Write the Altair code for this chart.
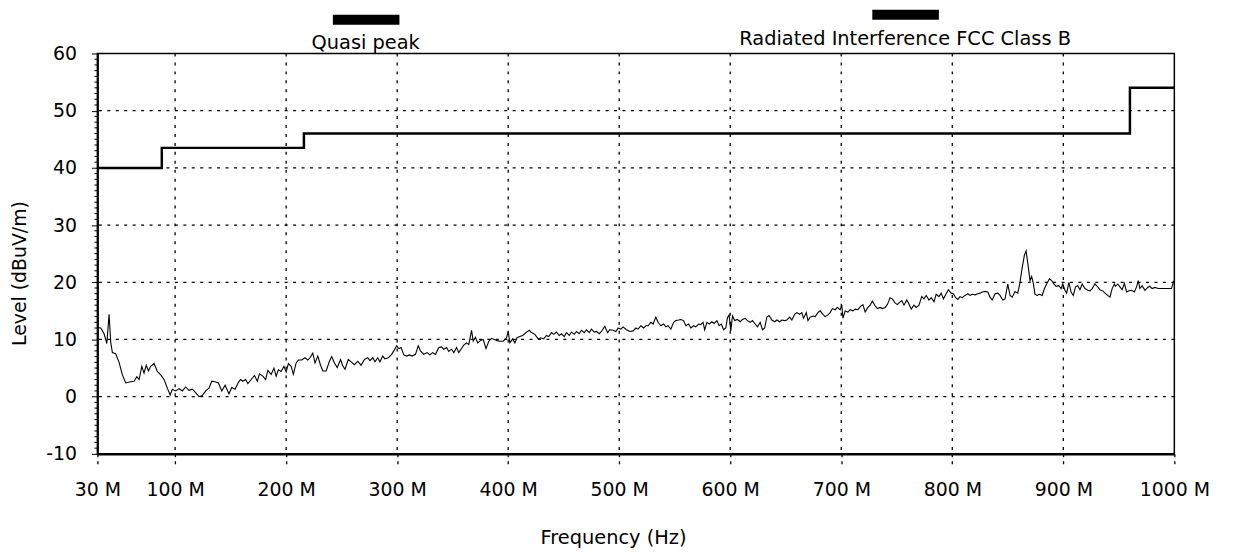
import altair as alt
import pandas as pd

# ---------------- data ----------------
freq_mhz = [30, 33, 36, 38.5, 40.5, 42, 43.5, 46.5, 49.5, 52.5, 55.5, 60, 63, 65.5, 67.5, 70, 72, 74, 76, 78,
            81, 84, 87, 90, 93, 95.5, 97.5, 100.5, 103.5, 106.5, 109.5, 112.5, 115.5, 118.5, 121.5, 124.5,
            127.5, 130.5, 133, 136, 139, 142, 145, 148.5, 151, 154, 157, 159, 161, 163.5, 165.5, 168.5,
            171.5, 174, 176, 179, 181.5, 183.5, 186.5, 189, 191, 193, 195.5, 198, 200, 202, 204.5, 206.5,
            209, 211, 214, 217, 219.5, 221.5, 224, 226, 228.5, 231, 233, 236, 239, 241, 243.5, 246, 249,
            251, 253, 256, 259, 261.5, 264.5, 267.5, 270.5, 273.5, 275.5, 278, 280, 282.5, 284.5, 287,
            289, 292, 295, 297, 299.5, 301.5, 303.5, 306, 308.5, 311, 313.5, 316.5, 319, 321, 324, 327,
            329.5, 332, 334.5, 337.5, 340, 342, 344.5, 346.5, 349, 351, 353.5, 355.5, 357.5, 360, 362.5,
            364.5, 367, 368.5, 370.5, 372.5, 375, 377.5, 380, 382.5, 385, 387.5, 390, 392.5, 395.5,
            398.5, 400, 401.5, 404, 406, 408, 410.5, 413, 416, 419, 421, 424, 427, 429.5, 432, 434.5,
            436.5, 439, 441, 443.5, 446, 448, 450.5, 452.5, 455, 457, 459.5, 461.5, 464, 466, 468.5,
            470.5, 473, 475, 477.5, 479.5, 482, 484, 487, 489.5, 491.5, 494.5, 497, 499, 501.5, 503.5,
            506.5, 509.5, 512.5, 515, 517, 519.5, 522, 524, 526, 528.5, 530.5, 533, 535, 537.5, 540,
            542, 544, 546.5, 549, 551, 553.5, 555.5, 558, 560, 562.5, 564.5, 567, 569, 571.5, 573.5,
            575.5, 577, 579, 581, 583.5, 585.5, 588, 590, 592, 594, 596, 597.5, 599, 600.5, 602, 604,
            606.5, 609, 611, 613.5, 615.5, 618, 620, 622.5, 624.5, 627, 629, 631, 633, 635, 637.5, 640,
            642, 644.5, 646.5, 649, 651, 653.5, 655.5, 658, 660, 662.5, 664.5, 666, 668.5, 670, 672,
            674.5, 676.5, 679, 681, 683.5, 685.5, 688, 690, 692, 694.5, 696.5, 699, 700.5, 701.5, 703.5,
            706, 708, 710.5, 712.5, 715, 717, 719.5, 721.5, 724, 726, 728, 730.5, 732.5, 735, 737, 739.5,
            741.5, 744, 746, 748.5, 750.5, 752.5, 754.5, 756.5, 759, 761, 763, 765.5, 767.5, 770, 772.5,
            774.5, 776.5, 779, 781, 783.5, 785.5, 788, 790, 792, 794.5, 796.5, 799, 801, 803, 805, 807,
            809, 811.5, 814, 816, 818, 820.5, 823, 825, 827, 829.5, 832, 834, 836, 838.5, 841, 843,
            845.5, 847.5, 850, 852, 854, 856.5, 859, 861, 863, 865, 866.5, 868.5, 870, 871.5, 873,
            874.5, 876.5, 878.5, 881, 883, 885, 887.5, 889.5, 891.5, 893.5, 896, 898, 899.5, 901.5,
            903, 905, 907, 909, 911, 913, 915, 917, 919.5, 922, 924, 926, 928.5, 931, 933, 935.5, 937.5,
            940, 942, 944, 946, 947, 949, 951, 953, 955, 957, 959, 961.5, 964, 966, 967.5, 969, 971,
            973.5, 976, 978, 980, 982.5, 985.5, 990, 994.5, 997.5, 999, 1000]

level_dbuv = [12.1, 12.0, 11.0, 9.3, 14.4, 9.5, 7.7, 7.5, 6.0, 3.8, 2.4, 2.6, 2.7, 3.5, 3.0, 5.3, 4.1, 5.5, 4.5, 5.3,
              5.8, 4.4, 3.8, 3.0, 1.5, 0.3, 1.3, 1.0, 1.4, 1.0, 1.7, 1.1, 1.3, 0.7, 0.0, 0.2,
              1.0, 1.5, 2.7, 2.6, 2.4, 1.0, 2.0, 0.5, 1.6, 1.3, 2.5, 3.0, 2.7, 3.0, 2.3, 3.0,
              3.7, 2.7, 4.0, 3.6, 3.0, 4.6, 3.9, 5.0, 3.6, 4.7, 4.4, 5.3, 4.3, 5.8, 5.3, 3.9,
              5.9, 6.4, 6.4, 6.8, 6.4, 6.8, 7.6, 5.9, 7.1, 5.5, 4.5, 4.5, 6.2, 7.0, 5.9, 5.1, 6.5,
              5.4, 4.8, 6.5, 6.0, 5.6, 6.2, 5.5, 6.5, 6.8, 6.3, 6.8, 6.1, 6.8, 6.1, 7.1,
              6.6, 6.8, 7.4, 8.0, 8.9, 8.4, 8.6, 7.3, 7.1, 7.3, 7.1, 7.4, 8.9, 8.0, 7.4, 7.7,
              7.3, 7.7, 7.4, 8.6, 8.7, 8.3, 8.6, 7.9, 8.3, 7.7, 8.6, 7.7, 8.3, 9.0, 9.4,
              9.1, 11.6, 9.7, 10.4, 9.4, 9.8, 10.0, 8.4, 9.7, 10.2, 10.0, 9.8, 9.7, 9.7,
              10.3, 11.4, 9.4, 10.1, 9.4, 10.3, 10.5, 10.7, 11.2, 11.6, 11.2, 10.9, 10.1, 10.3, 10.1, 10.7,
              10.5, 11.2, 10.9, 11.3, 10.7, 11.0, 10.5, 11.2, 10.7, 11.3, 10.9, 11.4, 11.0, 11.6, 11.2,
              11.7, 11.2, 11.8, 11.3, 11.4, 11.0, 11.4, 12.3, 11.2, 11.7, 11.6, 11.4, 12.0, 11.8, 12.2,
              11.7, 11.4, 11.5, 12.0, 11.8, 12.4, 12.0, 12.4, 12.4, 13.0, 12.7, 13.9, 13.0, 12.4, 12.7,
              12.2, 12.4, 11.8, 13.0, 13.3, 13.4, 13.5, 13.3, 12.4, 12.7, 12.0, 12.4, 12.2, 12.7, 12.6,
              13.0, 11.7, 13.0, 12.7, 13.1, 12.8, 13.3, 12.4, 12.7, 11.7, 12.0, 13.8, 14.3, 11.5, 14.1, 13.3,
              13.5, 13.1, 13.5, 13.7, 13.3, 13.0, 13.3, 12.7, 12.2, 13.0, 11.7, 12.0, 13.9, 14.2, 13.4, 13.1,
              13.4, 13.1, 13.4, 13.3, 13.4, 13.9, 13.4, 14.4, 14.7, 14.4, 14.7, 13.7, 14.7, 13.3, 13.9,
              14.1, 14.0, 14.7, 15.0, 14.4, 14.0, 14.3, 14.7, 15.4, 15.2, 15.6, 15.2, 16.0, 13.7, 15.0,
              14.8, 15.2, 15.0, 15.3, 15.2, 15.7, 16.1, 14.8, 15.6, 16.0, 16.7, 15.9, 15.4, 15.6, 15.4, 15.6,
              16.1, 17.3, 17.1, 16.4, 16.1, 16.5, 16.8, 16.0, 16.9, 16.2, 15.3, 16.0, 15.6, 16.0, 17.5,
              17.1, 17.7, 16.9, 17.3, 16.6, 17.9, 17.5, 18.1, 17.1, 18.0, 18.7, 18.1, 18.0, 17.3, 17.0, 17.5,
              17.3, 17.7, 18.0, 17.7, 17.9, 17.8, 18.0, 18.1, 18.3, 18.4, 18.3, 17.4, 16.9, 18.0, 18.1, 17.7,
              16.9, 17.1, 19.7, 17.7, 17.4, 18.4, 18.1, 20.0, 22.6, 24.8, 25.5, 22.6, 20.3, 21.0, 19.8,
              17.9, 17.7, 17.9, 17.7, 18.9, 19.7, 20.6, 20.3, 19.7, 19.3, 19.4, 18.9, 19.7, 18.6,
              18.1, 20.0, 18.3, 17.7, 19.2, 19.4, 18.7, 19.7, 18.9, 18.6, 18.5, 18.9, 19.7, 19.2, 18.7, 18.5, 18.1,
              17.7, 17.4, 18.9, 19.7, 19.3, 19.7, 19.2, 18.7, 19.8, 18.3, 18.5, 18.6, 18.3, 19.2, 20.3, 18.9, 19.4,
              18.6, 19.1, 19.3, 18.9, 19.1, 18.9, 18.9, 18.9, 18.9, 20.0, 20.3]

limit_freq = [30, 88, 216, 960, 1000]
limit_level = [40, 43.5, 46, 54, 54]

x_ticks = [30, 100, 200, 300, 400, 500, 600, 700, 800, 900, 1000]
x_grid = [100, 200, 300, 400, 500, 600, 700, 800, 900]
y_ticks = [-10, 0, 10, 20, 30, 40, 50, 60]
y_grid = [0, 10, 20, 30, 40, 50]
y_minor = [v for v in range(-10, 61) if v % 10 != 0]
legend_labels = ["Quasi peak", "Radiated Interference FCC Class B"]

# ---------------- chart ----------------
W, H = 1084, 403
FONT = "DejaVu Sans"

xscale = alt.Scale(domain=[30, 1000], nice=False, zero=False)
yscale = alt.Scale(domain=[-10, 60], nice=False, zero=False)

x_axis = alt.Axis(
    values=x_ticks, labelExpr="datum.value + ' M'", grid=False,
    tickSize=14, tickDash=[3, 4], tickColor="black", tickWidth=1.3,
    labelPadding=22, labelBaseline="middle", labelFontSize=19, labelFont=FONT,
    labelColor="black", labelFlush=False, labelOverlap=False,
    domainColor="black", domainWidth=2.5,
    title="Frequency (Hz)", titleFont=FONT, titleFontSize=19.5, titleFontWeight="normal",
    titleColor="black", titleX=519, titleY=84, titleBaseline="middle", titleAlign="center",
)

y_axis = alt.Axis(
    values=y_ticks,
    labelExpr="'' + datum.value",
    grid=False,
    tickSize=6, tickColor="black", tickWidth=1,
    labelPadding=15, labelFontSize=19, labelFont=FONT, labelColor="black",
    labelFlush=False, labelOverlap=False,
    domainColor="black", domainWidth=2,
    title="Level (dBuV/m)", titleFont=FONT, titleFontSize=19, titleFontWeight="normal",
    titleColor="black", titleX=-78, titleY=221, titleAngle=270,
    titleBaseline="middle", titleAlign="center",
)

# main trace carries both axes
trace = alt.Chart(pd.DataFrame({"freq": freq_mhz, "level": level_dbuv})).mark_line(
    color="black", strokeWidth=1.1
).encode(
    x=alt.X("freq:Q", scale=xscale, axis=x_axis),
    y=alt.Y("level:Q", scale=yscale, axis=y_axis),
)

xgrid = alt.Chart(pd.DataFrame({"freq": x_grid})).mark_rule(
    color="black", strokeDash=[3, 6], strokeWidth=1.3
).encode(x=alt.X("freq:Q"))

ygrid = alt.Chart(pd.DataFrame({"level": y_grid})).mark_rule(
    color="black", strokeDash=[3, 5.5], strokeWidth=1.3
).encode(y=alt.Y("level:Q"))

yminor = alt.Chart(pd.DataFrame({"level": y_minor})).mark_rule(
    color="black", strokeWidth=1
).encode(y=alt.Y("level:Q"), x=alt.value(-3), x2=alt.value(0))

limit = alt.Chart(pd.DataFrame({"freq": limit_freq, "level": limit_level})).mark_line(
    color="black", strokeWidth=2.5, interpolate="step-after"
).encode(x=alt.X("freq:Q"), y=alt.Y("level:Q"))

leg_layers = []
leg_pos = [  # (bar x0, bar x1, bar y0, bar y1, text x, text baseline y)
    (237, 304, -39, -29, 270, -4.5),
    (780, 847, -44, -34, 813, -9),
]
for lab, (bx0, bx1, by0, by1, tx, ty) in zip(legend_labels, leg_pos):
    d = pd.DataFrame({"label": [lab]})
    leg_layers.append(
        alt.Chart(d).mark_rect(color="black").encode(
            x=alt.value(bx0), x2=alt.value(bx1), y=alt.value(by0), y2=alt.value(by1)
        )
    )
    leg_layers.append(
        alt.Chart(d).mark_text(
            font=FONT, fontSize=19.5, color="black", align="center", baseline="alphabetic"
        ).encode(text="label:N", x=alt.value(tx), y=alt.value(ty))
    )

chart = alt.layer(trace, xgrid, ygrid, yminor, limit, *leg_layers).properties(
    width=W, height=H,
    padding={"left": 90, "top": 44, "right": 51, "bottom": 99},
    autosize=alt.AutoSizeParams(type="none"),
    background="white",
).configure_view(stroke="black", strokeWidth=1.5)

chart.save("out.html", embed_options={"renderer": "svg", "actions": False})
